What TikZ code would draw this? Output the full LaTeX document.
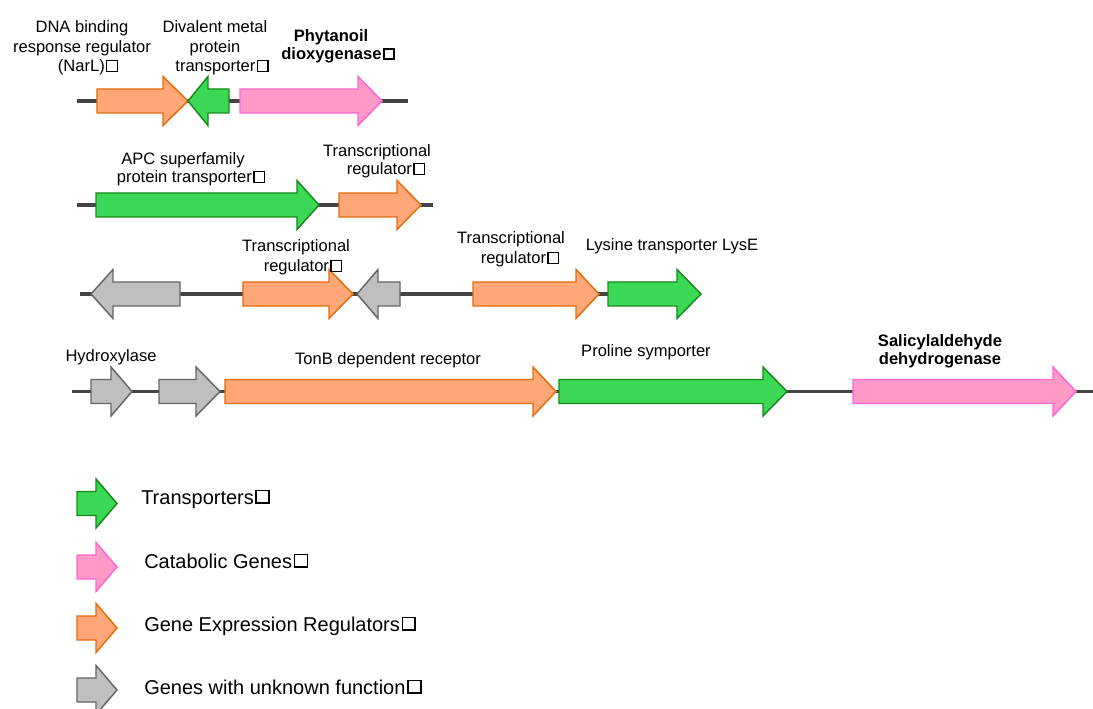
\documentclass[tikz,border=0pt]{standalone}
\usepackage{fontspec}
\setmainfont{Liberation Sans}
% open square used after several labels
\newcommand{\sqbox}{\kern0.08em{\setlength{\fboxsep}{0pt}\setlength{\fboxrule}{0.08em}%
  \raisebox{0.08em}{\fbox{\rule{0pt}{0.56em}\rule{0.56em}{0pt}}}}}
\newcommand{\sqboxbold}{\kern0.08em{\setlength{\fboxsep}{0pt}\setlength{\fboxrule}{0.13em}%
  \raisebox{0.13em}{\fbox{\rule{0pt}{0.46em}\rule{0.46em}{0pt}}}}}
\begin{document}
\definecolor{trfill}{HTML}{3AD854}
\definecolor{trdraw}{HTML}{178A1A}
\definecolor{catfill}{HTML}{FF99C8}
\definecolor{catdraw}{HTML}{FF66CC}
\definecolor{regfill}{HTML}{FFA777}
\definecolor{regdraw}{HTML}{E46C0A}
\definecolor{unkfill}{HTML}{BFBFBF}
\definecolor{unkdraw}{HTML}{666666}
\definecolor{dnaline}{HTML}{444444}
% gene arrow: #1 style, #2 tail x, #3 head base x, #4 tip x, #5 axis y
\newcommand{\genearrow}[5]{%
  \draw[#1] ({#2},{#5-12}) -- ({#3},{#5-12}) -- ({#3},{#5-24.5}) -- ({#4},{#5})
    -- ({#3},{#5+24.5}) -- ({#3},{#5+12}) -- ({#2},{#5+12}) -- cycle;}
\begin{tikzpicture}[x=0.75pt,y=-0.75pt,
    transporter/.style={fill=trfill,draw=trdraw,line width=1.1pt,line join=miter},
    catabolic/.style={fill=catfill,draw=catdraw,line width=1.1pt,line join=miter},
    regulator/.style={fill=regfill,draw=regdraw,line width=1.1pt,line join=miter},
    unknown/.style={fill=unkfill,draw=unkdraw,line width=1.1pt,line join=miter},
    backbone/.style={draw=dnaline,line width=2.3pt},
    lbl/.style={inner sep=0pt,anchor=base,font=\fontsize{12.4}{14.6}\selectfont},
    blbl/.style={lbl,font=\fontsize{12.4}{14.6}\selectfont\bfseries},
    leg/.style={inner sep=0pt,anchor=base west,font=\fontsize{15}{18}\selectfont}]
\useasboundingbox (0,0) rectangle (1093,709);
\clip (0,0) rectangle (1093,709);

% row 1
\coordinate (r1a) at (77,101);
\coordinate (r1b) at (408,101);
\draw[backbone] (r1a) -- (r1b);
\genearrow{regulator}{97}{163}{188}{101}
\genearrow{transporter}{229}{208}{188}{101}
\genearrow{catabolic}{240}{358}{382}{101}
\node[lbl] (narl1) at (82,33) {DNA binding};
\node[lbl] (narl2) at (82,53) {response regulator};
\node[lbl] (narl3) at (88,72) {(NarL)\sqbox};
\node[lbl] (dmt1) at (215,33) {Divalent metal};
\node[lbl] (dmt2) at (215,53) {protein};
\node[lbl] (dmt3) at (222,72) {transporter\sqbox};
\node[blbl] (phy1) at (331,42) {Phytanoil};
\node[blbl] (phy2) at (338,60) {dioxygenase\sqboxbold};

% row 2
\coordinate (r2a) at (77,205);
\coordinate (r2b) at (433,205);
\draw[backbone] (r2a) -- (r2b);
\genearrow{transporter}{96}{297}{319}{205}
\genearrow{regulator}{339}{397}{421}{205}
\node[lbl] (apc1) at (183,165) {APC superfamily};
\node[lbl] (apc2) at (191,183) {protein transporter\sqbox};
\node[lbl] (tr1a) at (377,157) {Transcriptional};
\node[lbl] (tr1b) at (386,175) {regulator\sqbox};

% row 3
\coordinate (r3a) at (80,294);
\coordinate (r3b) at (608,294);
\draw[backbone] (r3a) -- (r3b);
\genearrow{unknown}{180}{113}{91}{294}
\genearrow{regulator}{243}{329}{353}{294}
\genearrow{unknown}{400}{378}{357}{294}
\genearrow{regulator}{473}{576}{599}{294}
\genearrow{transporter}{608}{677}{701}{294}
\node[lbl] (tr2a) at (296,252) {Transcriptional};
\node[lbl] (tr2b) at (303,272) {regulator\sqbox};
\node[lbl] (tr3a) at (511,244) {Transcriptional};
\node[lbl] (tr3b) at (520,264) {regulator\sqbox};
\node[lbl] (lyse) at (672,251) {Lysine transporter LysE};

% row 4
\coordinate (r4a) at (72,391.5);
\coordinate (r4b) at (1093,391.5);
\draw[backbone] (r4a) -- (r4b);
\genearrow{unknown}{91}{111}{132}{391.5}
\genearrow{unknown}{159}{196}{220}{391.5}
\genearrow{regulator}{225}{533}{556}{391.5}
\genearrow{transporter}{559}{763}{787}{391.5}
\genearrow{catabolic}{853}{1053}{1076}{391.5}
\node[lbl] (hyd) at (111,362) {Hydroxylase};
\node[lbl] (tonb) at (388,364) {TonB dependent receptor};
\node[lbl] (pro) at (646,357) {Proline symporter};
\node[blbl] (sal1) at (940,347) {Salicylaldehyde};
\node[blbl] (sal2) at (940,365) {dehydrogenase};

% legend
\genearrow{transporter}{77}{96}{117}{503.5}
\genearrow{catabolic}{77}{96}{117}{567}
\genearrow{regulator}{77}{96}{117}{628}
\genearrow{unknown}{77}{96}{117}{690}
\node[leg] (legtr) at (141,504) {Transporters\sqbox};
\node[leg] (legcat) at (144,568) {Catabolic Genes\sqbox};
\node[leg] (legreg) at (144,631) {Gene Expression Regulators\sqbox};
\node[leg] (legunk) at (144,694) {Genes with unknown function\sqbox};
\end{tikzpicture}
\end{document}
